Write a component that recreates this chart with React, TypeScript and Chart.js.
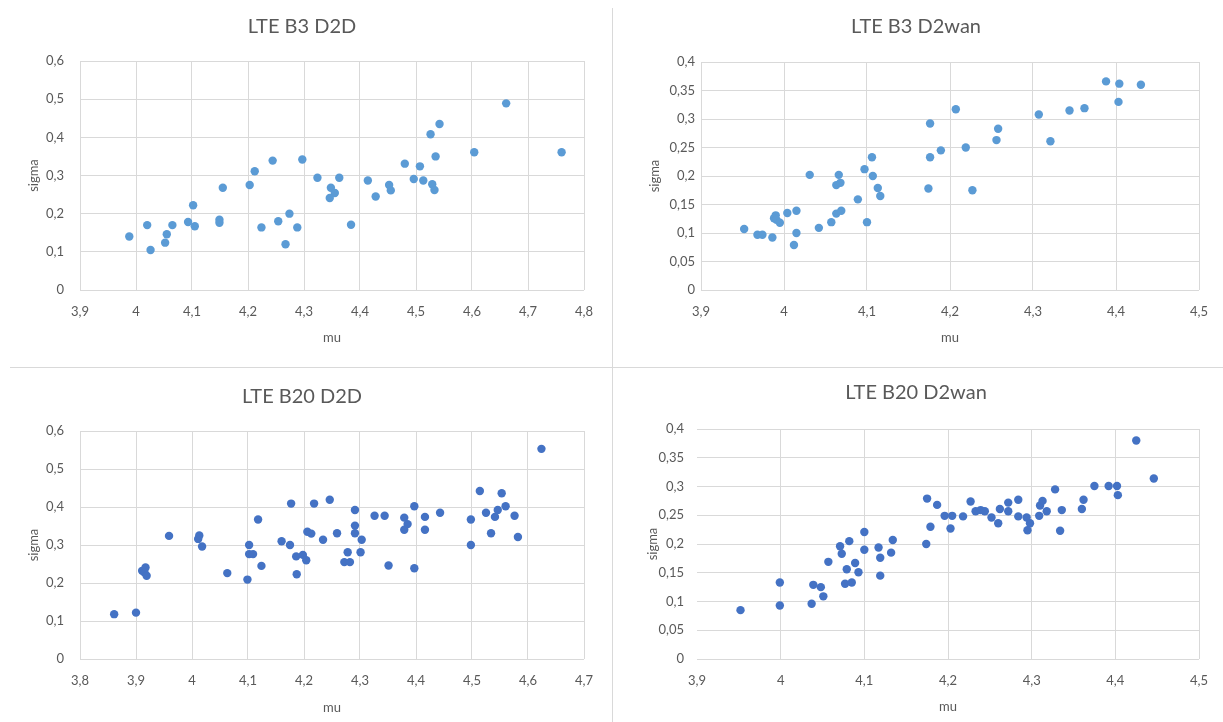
import React, { useEffect, useRef } from "react";
import { Chart, registerables } from "chart.js";

Chart.register(...registerables);

// ---- Data ----
const b3d2dMu = [3.988, 4.02, 4.026, 4.052, 4.055, 4.065, 4.093, 4.102, 4.105, 4.149, 4.149, 4.155, 4.203, 4.212, 4.224, 4.244, 4.254, 4.267, 4.274, 4.288, 4.297, 4.324, 4.348, 4.355, 4.346, 4.363, 4.384, 4.414, 4.428, 4.452, 4.455, 4.48, 4.496, 4.507, 4.513, 4.526, 4.529, 4.533, 4.535, 4.542, 4.604, 4.661, 4.76];
const b3d2dSigma = [0.14, 0.17, 0.105, 0.124, 0.146, 0.17, 0.178, 0.222, 0.167, 0.184, 0.176, 0.268, 0.275, 0.311, 0.164, 0.339, 0.18, 0.12, 0.2, 0.164, 0.342, 0.294, 0.268, 0.254, 0.241, 0.294, 0.171, 0.287, 0.245, 0.275, 0.261, 0.331, 0.291, 0.324, 0.287, 0.408, 0.277, 0.262, 0.35, 0.435, 0.361, 0.489, 0.361];

const b3d2wanMu = [3.952, 3.968, 3.974, 3.986, 3.988, 3.99, 3.991, 3.995, 4.004, 4.012, 4.015, 4.015, 4.031, 4.042, 4.057, 4.063, 4.063, 4.066, 4.068, 4.069, 4.089, 4.097, 4.1, 4.106, 4.107, 4.113, 4.116, 4.174, 4.176, 4.176, 4.189, 4.207, 4.219, 4.227, 4.256, 4.258, 4.307, 4.321, 4.344, 4.362, 4.388, 4.404, 4.403, 4.43];
const b3d2wanSigma = [0.107, 0.097, 0.097, 0.092, 0.126, 0.131, 0.123, 0.118, 0.135, 0.079, 0.139, 0.1, 0.202, 0.109, 0.119, 0.134, 0.184, 0.202, 0.188, 0.139, 0.159, 0.212, 0.119, 0.233, 0.2, 0.179, 0.165, 0.178, 0.233, 0.292, 0.245, 0.317, 0.25, 0.175, 0.263, 0.283, 0.308, 0.261, 0.315, 0.319, 0.366, 0.362, 0.33, 0.36];

const b20d2dMu = [3.861, 3.9, 3.911, 3.917, 3.915, 3.919, 3.959, 4.011, 4.013, 4.018, 4.063, 4.099, 4.102, 4.102, 4.109, 4.118, 4.124, 4.16, 4.175, 4.177, 4.186, 4.187, 4.198, 4.206, 4.204, 4.213, 4.218, 4.234, 4.246, 4.259, 4.278, 4.272, 4.282, 4.291, 4.291, 4.291, 4.303, 4.301, 4.326, 4.344, 4.351, 4.379, 4.385, 4.379, 4.397, 4.397, 4.416, 4.416, 4.443, 4.498, 4.498, 4.514, 4.525, 4.534, 4.541, 4.546, 4.553, 4.56, 4.576, 4.582, 4.624];
const b20d2dSigma = [0.118, 0.122, 0.232, 0.241, 0.228, 0.219, 0.324, 0.316, 0.325, 0.296, 0.226, 0.209, 0.3, 0.276, 0.276, 0.367, 0.245, 0.31, 0.3, 0.409, 0.27, 0.223, 0.274, 0.335, 0.26, 0.33, 0.409, 0.314, 0.419, 0.331, 0.281, 0.255, 0.255, 0.392, 0.351, 0.331, 0.314, 0.281, 0.377, 0.377, 0.246, 0.372, 0.355, 0.34, 0.402, 0.239, 0.374, 0.34, 0.385, 0.367, 0.3, 0.442, 0.385, 0.331, 0.374, 0.392, 0.436, 0.402, 0.377, 0.321, 0.553];

const b20d2wanMu = [3.952, 3.999, 3.999, 4.037, 4.039, 4.048, 4.051, 4.057, 4.071, 4.073, 4.082, 4.077, 4.079, 4.085, 4.089, 4.093, 4.1, 4.1, 4.117, 4.119, 4.119, 4.132, 4.134, 4.174, 4.175, 4.179, 4.187, 4.196, 4.205, 4.203, 4.218, 4.227, 4.233, 4.239, 4.244, 4.252, 4.26, 4.262, 4.272, 4.272, 4.284, 4.284, 4.294, 4.295, 4.298, 4.309, 4.31, 4.313, 4.318, 4.328, 4.334, 4.336, 4.36, 4.362, 4.375, 4.392, 4.402, 4.403, 4.425, 4.446];
const b20d2wanSigma = [0.085, 0.133, 0.093, 0.096, 0.129, 0.125, 0.109, 0.169, 0.196, 0.183, 0.205, 0.131, 0.156, 0.133, 0.167, 0.151, 0.221, 0.19, 0.194, 0.176, 0.145, 0.185, 0.207, 0.2, 0.279, 0.23, 0.268, 0.249, 0.249, 0.227, 0.248, 0.274, 0.257, 0.259, 0.257, 0.246, 0.236, 0.261, 0.272, 0.257, 0.277, 0.248, 0.246, 0.224, 0.236, 0.249, 0.267, 0.275, 0.257, 0.295, 0.223, 0.259, 0.261, 0.277, 0.301, 0.301, 0.301, 0.285, 0.38, 0.314];

const titles = ["LTE B3 D2D", "LTE B3 D2wan", "LTE B20 D2D", "LTE B20 D2wan"];
const xTitle = "mu";
const yTitle = "sigma";

const FONT = "Lato, 'Open Sans', sans-serif";
const TEXT = "#595959";
const GRID = "#d9d9d9";

type PanelCfg = {
  title: string;
  mu: number[];
  sigma: number[];
  color: string;
  xMin: number;
  xMax: number;
  yMax: number;
  yStep: number;
  yDecimals: number;
  left: number;
  top: number;
  width: number;
  height: number;
  padLeft: number;
  padRight: number;
  padTop: number;
  titleGap: number;
  yWidth: number;
  yTickPad: number;
  yTitlePad: number;
  xHeight: number;
  xTickPad: number;
  xTitlePad: number;
  hideFirstXGrid: boolean;
};

const fmt = (v: number, d: number) => {
  const r = Math.round(v * Math.pow(10, d)) / Math.pow(10, d);
  return String(r).replace(".", ",");
};

function Panel({ cfg }: { cfg: PanelCfg }) {
  const ref = useRef<HTMLCanvasElement | null>(null);
  useEffect(() => {
    if (!ref.current) return;
    const points = cfg.mu.map((m, i) => ({ x: m, y: cfg.sigma[i] }));
    const chart = new Chart(ref.current, {
      type: "scatter",
      data: {
        datasets: [
          {
            data: points,
            backgroundColor: cfg.color,
            borderColor: cfg.color,
            borderWidth: 0,
            pointRadius: 4.2,
          },
        ],
      },
      options: {
        animation: false,
        responsive: false,
        layout: {
          padding: { left: cfg.padLeft, right: cfg.padRight, top: cfg.padTop, bottom: 0 },
        },
        plugins: {
          legend: { display: false },
          tooltip: { enabled: false },
          title: {
            display: true,
            text: cfg.title,
            color: TEXT,
            font: { family: FONT, size: 20, weight: "normal", lineHeight: 1.2 },
            padding: { top: 0, bottom: cfg.titleGap },
          },
        },
        scales: {
          x: {
            type: "linear",
            min: cfg.xMin,
            max: cfg.xMax,
            ticks: {
              stepSize: 0.1,
              color: TEXT,
              font: { family: FONT, size: 13 },
              padding: cfg.xTickPad,
              callback: (v: any) => fmt(Number(v), 1),
            },
            grid: {
              color: (ctx: any) => (cfg.hideFirstXGrid && ctx.index === 0 ? "rgba(0,0,0,0)" : GRID),
              drawTicks: false,
            },
            border: { display: false },
            title: {
              display: true,
              text: xTitle,
              color: TEXT,
              font: { family: FONT, size: 13 },
              padding: { top: 0, bottom: cfg.xTitlePad },
            },
            afterFit: (s: any) => {
              s.height = cfg.xHeight;
            },
          },
          y: {
            type: "linear",
            min: 0,
            max: cfg.yMax,
            ticks: {
              stepSize: cfg.yStep,
              color: TEXT,
              font: { family: FONT, size: 13 },
              padding: cfg.yTickPad,
              callback: (v: any) => fmt(Number(v), cfg.yDecimals),
            },
            grid: { color: GRID, drawTicks: false },
            border: { display: false },
            title: {
              display: true,
              text: yTitle,
              color: TEXT,
              font: { family: FONT, size: 13 },
              padding: { top: cfg.yTitlePad, bottom: 0 },
            },
            afterFit: (s: any) => {
              s.width = cfg.yWidth;
            },
          },
        },
      },
    });
    return () => chart.destroy();
  }, []);
  return (
    <canvas
      ref={ref}
      width={cfg.width}
      height={cfg.height}
      style={{ position: "absolute", left: cfg.left, top: cfg.top, width: cfg.width, height: cfg.height }}
    />
  );
}

const panels: PanelCfg[] = [
  {
    title: titles[0], mu: b3d2dMu, sigma: b3d2dSigma, color: "#5b9bd5",
    xMin: 3.9, xMax: 4.8, yMax: 0.6, yStep: 0.1, yDecimals: 1,
    left: 0, top: 0, width: 612, height: 367,
    padLeft: 20, padRight: 28, padTop: 15, titleGap: 22,
    yWidth: 60, yTickPad: 16, yTitlePad: 6,
    xHeight: 77, xTickPad: 14, xTitlePad: 21, hideFirstXGrid: false,
  },
  {
    title: titles[1], mu: b3d2wanMu, sigma: b3d2wanSigma, color: "#5b9bd5",
    xMin: 3.9, xMax: 4.5, yMax: 0.4, yStep: 0.05, yDecimals: 2,
    left: 613, top: 0, width: 610, height: 367,
    padLeft: 20, padRight: 24, padTop: 15, titleGap: 23,
    yWidth: 68, yTickPad: 6, yTitlePad: 14,
    xHeight: 77, xTickPad: 14, xTitlePad: 21, hideFirstXGrid: false,
  },
  {
    title: titles[2], mu: b20d2dMu, sigma: b20d2dSigma, color: "#4472c4",
    xMin: 3.8, xMax: 4.7, yMax: 0.6, yStep: 0.1, yDecimals: 1,
    left: 0, top: 368, width: 612, height: 354,
    padLeft: 20, padRight: 28, padTop: 17, titleGap: 22,
    yWidth: 60, yTickPad: 16, yTitlePad: 6,
    xHeight: 63, xTickPad: 14, xTitlePad: 6, hideFirstXGrid: false,
  },
  {
    title: titles[3], mu: b20d2wanMu, sigma: b20d2wanSigma, color: "#4472c4",
    xMin: 3.9, xMax: 4.5, yMax: 0.4, yStep: 0.05, yDecimals: 2,
    left: 613, top: 368, width: 610, height: 354,
    padLeft: 20, padRight: 24, padTop: 13, titleGap: 24,
    yWidth: 64, yTickPad: 13, yTitlePad: 12,
    xHeight: 63, xTickPad: 14, xTitlePad: 7, hideFirstXGrid: true,
  },
];

export default function App() {
  return (
    <div style={{ position: "absolute", left: 0, top: 0, width: 1223, height: 722, background: "#fff" }}>
      {panels.map((p, i) => (
        <Panel key={i} cfg={p} />
      ))}
      <div style={{ position: "absolute", left: 612, top: 8, width: 1, height: 714, background: GRID }} />
      <div style={{ position: "absolute", left: 10, top: 367, width: 1213, height: 1, background: GRID }} />
    </div>
  );
}
